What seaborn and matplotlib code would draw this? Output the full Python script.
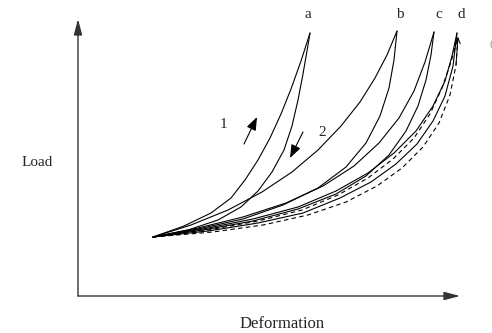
import matplotlib
matplotlib.use("Agg")
import matplotlib.pyplot as plt
import seaborn as sns

sns.set_style("white")
plt.rcParams['font.family'] = ['Liberation Serif', 'DejaVu Serif']

# loading / unloading curves (deformation, load) in schematic units
a_load_x = [75, 106, 133, 153, 167, 180, 192, 203, 213, 223, 232]
a_load_y = [59, 70, 83, 98, 116, 136, 158, 182, 207, 235, 263]
a_unload_x = [75, 110, 140, 163, 180, 194, 206, 214, 220, 225, 229.5, 232]
a_unload_y = [59, 66, 76, 89, 105, 124, 146, 170, 196, 222, 248, 263]

b_load_x = [75, 113, 150, 184, 214, 240, 263, 282, 297, 309, 319]
b_load_y = [59, 71, 86, 104, 124, 146, 170, 194, 218, 241, 265]
b_unload_x = [75, 120, 165, 205, 240, 268, 288, 302, 311, 316, 319]
b_unload_y = [59, 67, 77, 91, 108, 129, 153, 180, 208, 236, 265]

c_load_x = [75, 120, 165, 208, 245, 276, 301, 321, 336, 347, 356]
c_load_y = [59, 68, 79, 93, 110, 130, 153, 178, 205, 234, 264]
c_unload_x = [75, 125, 175, 220, 258, 288, 311, 328, 340, 348, 353, 356]
c_unload_y = [59, 66, 75, 87, 102, 120, 141, 165, 190, 216, 241, 264]

d_load_x = [75, 125, 175, 220, 258, 290, 316, 338, 355, 367, 374, 379]
d_load_y = [59, 67, 77, 89, 105, 123, 143, 165, 190, 215, 240, 263]
d_unload_x = [75, 130, 180, 225, 262, 293, 318, 339, 355, 367, 375, 379]
d_unload_y = [59, 65, 73, 83, 98, 114, 132, 152, 175, 200, 230, 263]

dash1_x = [75, 130, 180, 224, 260, 290, 315, 336, 352, 364, 373, 380]
dash1_y = [59, 66, 75, 86, 101, 118, 137, 158, 182, 208, 234, 259]
dash2_x = [75, 135, 185, 230, 268, 299, 324, 345, 361, 372, 378, 380]
dash2_y = [59, 64, 71, 81, 94, 110, 128, 149, 173, 201, 231, 259]

peak_labels = ["a", "b", "c", "d"]
peak_label_x = [230, 322, 361, 383]

solid = [(a_load_x, a_load_y), (a_unload_x, a_unload_y),
         (b_load_x, b_load_y), (b_unload_x, b_unload_y),
         (c_load_x, c_load_y), (c_unload_x, c_unload_y),
         (d_load_x, d_load_y), (d_unload_x, d_unload_y)]
dashed = [(dash1_x, dash1_y), (dash2_x, dash2_y)]

fig = plt.figure(figsize=(4.92, 3.33), dpi=100)
ax = fig.add_axes([0, 0, 1, 1])
ax.set_xlim(-78, 414)
ax.set_ylim(-37, 296)
ax.axis("off")

for xs, ys in solid:
    sns.lineplot(x=xs, y=ys, sort=False, color="black", lw=0.8, ax=ax)
for xs, ys in dashed:
    sns.lineplot(x=xs, y=ys, sort=False, color="black", lw=0.8,
                 ax=ax, linestyle=(0, (4, 3)))

# small open head on the outer dashed curve
ax.annotate("", xy=(dash2_x[-1], dash2_y[-1]), xytext=(dash2_x[-2], dash2_y[-2]),
            arrowprops=dict(arrowstyle="->,head_length=0.4,head_width=0.2",
                            lw=0.7, color="black", shrinkA=0, shrinkB=0))

# axes with arrow heads
ax_kw = dict(arrowstyle="-|>,head_length=0.95,head_width=0.25", lw=1.0,
             color="#333333", shrinkA=0, shrinkB=0, mutation_scale=10)
ax.annotate("", xy=(382, 0), xytext=(0, 0), arrowprops=ax_kw)
ax.annotate("", xy=(0, 277), xytext=(0, 0), arrowprops=ax_kw)

# loading / unloading direction arrows
dir_kw = dict(arrowstyle="-|>,head_length=0.8,head_width=0.3", lw=0.8,
              color="black", shrinkA=0, shrinkB=0, mutation_scale=10)
ax.annotate("", xy=(179, 179), xytext=(166, 152), arrowprops=dir_kw)
ax.annotate("", xy=(212, 138), xytext=(225, 164), arrowprops=dir_kw)
ax.text(145, 171, "1", fontsize=11, ha="center", va="center")
ax.text(244, 164, "2", fontsize=11, ha="center", va="center")

for lab, lx in zip(peak_labels, peak_label_x):
    ax.text(lx, 282, lab, fontsize=11, ha="center", va="center")

ax.text(-41, 133, "Load", fontsize=11, ha="center", va="center")
ax.text(204, -28, "Deformation", fontsize=12, ha="center", va="center")
ax.text(411, 252, "(", fontsize=8, ha="left", va="center", color="#888888")

fig.savefig("out.png", dpi=100)
